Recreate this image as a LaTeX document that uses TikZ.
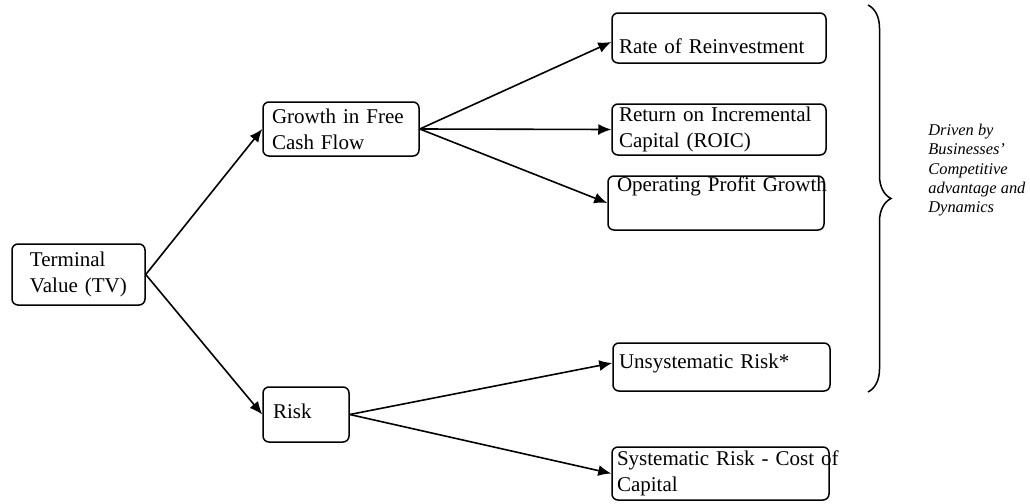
\documentclass[tikz,border=0pt]{standalone}
\usepackage{fontspec}
\setmainfont{Liberation Serif}
\usepackage{tikz}
\usetikzlibrary{arrows.meta, decorations.pathreplacing}

\newcommand{\boxfont}{\fontsize{10.5}{13}\selectfont}
\newcommand{\notefont}{\fontsize{8.2}{9.6}\selectfont\itshape}
\newcommand{\oneline}[2]{\raisebox{#1}[0pt][0pt]{#2}}

\tikzset{
  box/.style={draw, rounded corners=3pt, line width=0.75pt, inner ysep=0pt,
    align=left, font=\boxfont},
  arr/.style={-{Latex[length=6.5pt,width=5.5pt]}, line width=0.8pt}
}

\begin{document}
\begin{tikzpicture}[x=0.5pt, y=-0.5pt]
  \useasboundingbox (0,0) rectangle (1030,504);
  % left column
  \node[box, inner xsep=9pt, text width=48.5pt, minimum height=30.5pt] (tv) at (78.5,274.5) {Terminal\\Value~(TV)};
  % middle column
  \node[box, inner xsep=4.5pt, text width=69pt, minimum height=27pt] (gr) at (341,129) {Growth~in~Free\\Cash~Flow};
  \node[box, inner xsep=5pt, text width=33pt, minimum height=27.5pt] (rk) at (306,414.5) {\oneline{-1.75pt}{Risk}};
  % right column
  \node[box, inner xsep=3.5pt, text width=100pt, minimum height=25pt] (rr) at (719,38) {\oneline{-7.5pt}{Rate of Reinvestment}};
  \node[box, inner xsep=3.5pt, text width=100pt, minimum height=25.5pt] (ri) at (719,129.5) {Return~on~Incremental\\Capital~(ROIC)};
  \node[box, inner xsep=4.5pt, text width=99pt, minimum height=27pt] (op) at (716,203) {\oneline{6pt}{Operating Profit Growth}};
  \node[box, inner xsep=3pt, text width=102.5pt, minimum height=24pt] (us) at (721.5,367) {\oneline{-0.5pt}{Unsystematic Risk*}};
  \node[box, inner xsep=2.5pt, text width=103.5pt, minimum height=26.5pt] (sy) at (720.5,473.5) {\mbox{Systematic Risk - Cost of}\\Capital};

  % connectors
  \draw[arr] (tv.east) -- (gr.west);
  \draw[arr] (tv.east) -- (rk.west);
  \draw[arr] (gr.east) -- ([yshift=-2pt]rr.west);
  \draw[arr] (gr.east) -- (ri.west);
  \draw[arr] (gr.east) -- (op.west);
  \draw[arr] (rk.east) -- ([yshift=2pt]us.west);
  \draw[arr] (rk.east) -- (sy.west);

  % brace and note
  \coordinate (bt) at (868,5);
  \coordinate (bb) at (868,392);
  \draw[decorate, decoration={brace, amplitude=11.5pt}, line width=0.75pt] (bt) -- (bb);
  \node[anchor=north west, inner sep=0pt, align=left, font=\notefont] (note) at (928,124)
    {Driven by\\Businesses'\\Competitive\\advantage and\\Dynamics};
\end{tikzpicture}
\end{document}
